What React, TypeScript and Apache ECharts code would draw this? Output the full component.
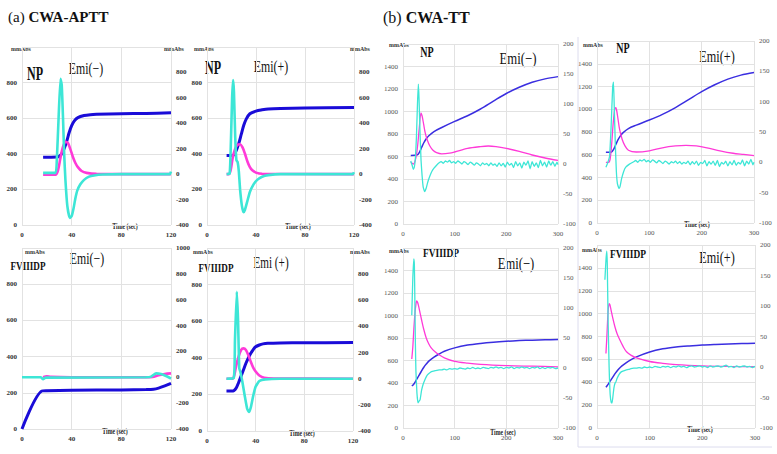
import { useEffect, useRef } from "react";
import * as echarts from "echarts";

type Pt = [number, number];

// ---------- (a) CWA-APTT ----------
const A_X_TICKS = [0, 40, 80, 120];
const A_LEFT_TICKS = [0, 200, 400, 600, 800, 1000];
const A_RIGHT_TICKS = [-400, -200, 0, 200, 400, 600, 800, 1000];

// NP Emi(−)
const A1_BLUE: Pt[] = [[17, 380], [28, 382], [30, 386], [32, 400], [34, 430], [36, 470], [38, 520], [40, 558], [42, 584], [45, 603], [50, 615], [55, 620], [60, 622], [80, 625], [100, 627], [120, 630]];
const A1_MAG: Pt[] = [[17, -5], [27, -5], [29, 30], [31, 130], [33, 215], [35, 255], [37, 245], [39, 195], [41, 135], [43, 88], [45, 55], [48, 25], [52, 10], [60, 2], [120, 0]];
const A1_CYAN: Pt[] = [[17, 10], [27, 10], [28, 100], [29.5, 450], [31, 750], [32, 700], [33, 450], [34, 150], [35, -50], [36.5, -250], [38.5, -345], [40, -330], [41.5, -270], [43, -190], [44.5, -130], [47, -80], [50, -45], [54, -20], [58, -10], [65, -3], [80, 0], [119, 0], [120, 20]];

// NP Emi(+)
const A2_BLUE: Pt[] = [[16, 390], [20, 390], [22, 395], [24, 420], [26, 460], [28, 510], [30, 560], [32, 595], [35, 625], [40, 640], [45, 647], [50, 652], [60, 655], [80, 657], [120, 660]];
const A2_MAG: Pt[] = [[16, 0], [18, 0], [19.5, 40], [21, 130], [23, 200], [25, 232], [27, 235], [29, 210], [31, 160], [33, 100], [35, 55], [37, 30], [40, 12], [45, 3], [120, 0]];
const A2_CYAN: Pt[] = [[16, 0], [18.5, 5], [19.5, 250], [20.5, 600], [21.3, 740], [22, 650], [23, 300], [24, 110], [25, 95], [26, 20], [27, -120], [28.5, -250], [29.8, -300], [31, -280], [33, -210], [35, -140], [38, -80], [41, -45], [45, -20], [50, -8], [60, 0], [119, 0], [120, 15]];

// FVIIIDP Emi(−)
const A3_BLUE: Pt[] = [[0, 0], [16, 210], [20, 212], [40, 214], [80, 216], [100, 218], [106, 220], [110, 226], [115, 238], [120, 252]];
const A3_MAG: Pt[] = [[17, 0], [20, 8], [23, 3], [40, 0], [100, 0], [105, 2], [110, 15], [115, 25], [120, 30]];
const A3_CYAN: Pt[] = [[0, 0], [15, 0], [17, -15], [19, -3], [100, 0], [104, 5], [108, 30], [112, 25], [116, 10], [120, -10]];

// FVIIIDP Emi(+)
const A4_BLUE: Pt[] = [[16, 218], [20, 218], [22, 220], [24, 235], [26, 265], [28, 300], [30, 335], [32, 370], [34, 400], [36, 425], [38, 445], [40, 460], [43, 470], [46, 476], [50, 479], [60, 481], [80, 482], [120, 483]];
const A4_MAG: Pt[] = [[16, 0], [21, 0], [22.5, 30], [24, 100], [26, 170], [28, 220], [30, 232], [32, 220], [34, 180], [36, 130], [38, 85], [40, 55], [43, 25], [47, 8], [55, 2], [120, 0]];
const A4_CYAN: Pt[] = [[16, 0], [22, 5], [23, 300], [24.5, 665], [25.5, 450], [26.5, 80], [27.5, 50], [29, -20], [31, -130], [33, -230], [34.5, -255], [36, -220], [38, -130], [40, -60], [43, -18], [48, -5], [60, 0], [120, 0]];

// ---------- (b) CWA-TT ----------
const B_X_TICKS = [0, 100, 200, 300];
const B_LEFT_TICKS = [0, 200, 400, 600, 800, 1000, 1200, 1400, 1600];
const B_RIGHT_TICKS = [-100, -50, 0, 50, 100, 150, 200];

// NP Emi(−)
const B1_BLUE: Pt[] = [[15, 610], [28, 615], [32, 640], [36, 680], [40, 720], [45, 758], [50, 785], [60, 822], [75, 858], [100, 912], [125, 962], [150, 1022], [175, 1092], [200, 1160], [225, 1215], [250, 1260], [275, 1290], [300, 1310]];
const B1_MAG: Pt[] = [[15, 3], [18, 1], [20, 0], [23, 4], [26, 15], [28.5, 32], [31.5, 60], [34.8, 85], [37, 80], [40, 66], [43, 52], [47, 40], [52, 30], [58, 23], [65, 19], [75, 17], [90, 18], [100, 20], [125, 26], [150, 29], [165, 30], [180, 29], [200, 26], [225, 21], [250, 15], [275, 10], [300, 6]];
const B1_CYAN: Pt[] = [[15, 5], [18, -3], [20, -9], [22, -5], [24, 10], [26, 45], [28, 100], [29.7, 133], [31, 110], [33, 50], [35, 5], [37, -20], [39, -38], [42, -46], [45, -40], [48, -30], [52, -20], [56, -12], [60, -7], [65, -2],
  [70, 2], [74, 4], [78, 1], [82, 5], [86, 3], [90, 6], [94, 2], [98, 4], [102, 1], [106, 5], [110, 3], [114, 0], [118, 4], [122, 2], [126, -1], [130, 3], [134, 1], [138, -2], [142, 2], [146, 0], [150, -3], [154, 2], [158, -1], [162, 1], [166, -3], [170, 2], [174, -2], [178, 0], [182, -4], [186, 2], [190, -3], [194, 1], [198, -5], [202, 3], [206, -2], [210, 1], [214, -6], [218, 4], [222, -3], [226, 2], [230, -7], [234, 3], [238, -2], [242, 5], [246, -8], [250, 4], [254, -4], [258, 2], [262, -6], [266, 6], [270, -3], [274, 3], [278, -5], [282, 5], [286, -2], [290, 4], [294, -4], [298, 3], [300, -1]];

// NP Emi(+)
const B2_BLUE: Pt[] = [[17, 622], [28, 625], [32, 650], [36, 690], [40, 730], [45, 768], [50, 795], [60, 830], [75, 860], [100, 905], [125, 955], [150, 1015], [175, 1085], [200, 1155], [225, 1215], [250, 1265], [275, 1300], [300, 1323]];
const B2_MAG: Pt[] = [[17, 0], [22, 0], [25, 5], [28, 30], [31, 65], [34, 88], [36, 90], [39, 78], [43, 55], [48, 38], [53, 28], [60, 20], [75, 17], [100, 19], [125, 24], [150, 27], [170, 28], [190, 27], [210, 24], [235, 19], [260, 15], [280, 13], [300, 11]];
const B2_CYAN: Pt[] = [[17, -8], [20, -2], [24, 10], [27, 60], [30, 125], [31.5, 132], [33, 90], [35, 30], [37, -15], [39, -35], [42, -43], [44, -40], [47, -27], [51, -15], [55, -8], [62, -3],
  [70, 1], [74, 3], [78, 0], [82, 4], [86, 2], [90, 5], [94, 1], [98, 3], [102, 0], [106, 4], [110, 2], [114, -1], [118, 3], [122, 1], [126, -2], [130, 2], [134, 0], [138, -3], [142, 1], [146, -1], [150, 2], [154, -2], [158, 1], [162, -3], [166, 0], [170, -2], [174, 2], [178, -4], [182, 1], [186, -3], [190, 2], [194, -5], [198, 0], [202, -2], [206, 3], [210, -6], [214, 1], [218, -3], [222, 2], [226, -5], [230, 3], [234, -7], [238, 0], [242, -3], [246, 2], [250, -6], [254, 1], [258, -4], [262, 3], [266, -5], [270, 0], [274, -3], [278, 4], [282, -6], [286, 2], [290, -3], [294, 5], [298, -4], [300, 0]];

// FVIIIDP Emi(−)
const B3_BLUE: Pt[] = [[17, 375], [20, 385], [25, 420], [30, 460], [35, 500], [40, 538], [45, 568], [50, 594], [60, 630], [70, 658], [80, 682], [100, 712], [125, 737], [150, 752], [175, 763], [200, 771], [225, 777], [250, 781], [275, 784], [300, 787]];
const B3_MAG: Pt[] = [[17, 15], [19, 35], [21, 65], [23, 90], [25, 106], [26.5, 112], [28, 110], [30, 104], [33, 92], [36, 80], [40, 65], [45, 50], [50, 40], [55, 33], [62, 27], [70, 22], [80, 17], [100, 11], [125, 8], [150, 6], [200, 4], [250, 3], [300, 2]];
const B3_CYAN: Pt[] = [[17, 88], [19, 150], [21, 182], [22, 172], [23, 110], [24, 40], [25, -5], [27, -42], [29, -58], [30.5, -56], [33, -53], [36, -37], [39, -27], [42.6, -19], [46, -13], [49, -10], [55, -6], [62, -4.5], [70, -3],
  [75, -3], [80, -2], [85, -3], [90, -1], [95, -2], [100, -1], [105, -2], [110, 0], [115, -1], [120, -2], [125, 0], [130, -1], [135, 1], [140, -1], [145, 0], [150, -1], [155, 1], [160, 0], [165, -1], [170, 1], [175, 0], [180, 2], [185, 0], [190, 1], [195, -1], [200, 1], [205, 0], [210, 2], [215, -1], [220, 1], [225, 0], [230, 2], [235, 0], [240, 1], [245, -1], [250, 1], [255, 0], [260, 2], [265, -1], [270, 1], [275, -1], [280, 1], [285, 0], [290, 1], [295, -1], [300, 0]];

// FVIIIDP Emi(+)
const B4_BLUE: Pt[] = [[17, 356], [20, 375], [25, 410], [30, 445], [35, 480], [40, 510], [45, 533], [50, 552], [60, 585], [75, 622], [100, 665], [125, 692], [150, 708], [175, 718], [200, 726], [225, 731], [250, 735], [275, 738], [300, 741]];
const B4_MAG: Pt[] = [[17, 22], [19, 55], [21, 90], [23, 104], [24.5, 102], [27, 92], [30, 80], [34, 66], [38, 55], [43, 45], [50, 33], [56, 25], [65, 19], [75, 15], [100, 9], [125, 6], [150, 4], [200, 2], [250, 1], [300, 0.5]];
const B4_CYAN: Pt[] = [[15, 143], [17, 175], [18.5, 190], [19.5, 170], [21, 80], [23, 0], [25, -45], [27, -58], [28.5, -59], [30, -50], [32, -35], [34, -27], [36, -24], [38, -19], [42, -12], [46, -8], [52, -6], [60, -4], [70, -2],
  [75, -2], [80, -1], [85, -2], [90, 0], [95, -1], [100, 0], [105, -1], [110, 1], [115, 0], [120, -1], [125, 1], [130, 0], [135, 1], [140, -1], [145, 1], [150, 0], [155, 2], [160, 0], [165, 1], [170, -1], [175, 1], [180, 2], [185, 0], [190, 1], [195, 2], [200, 0], [205, 1], [210, -1], [215, 2], [220, 0], [225, 1], [230, 2], [235, 0], [240, 1], [245, 3], [250, 0], [255, 1], [260, -1], [265, 2], [270, 0], [275, 1], [280, 2], [285, 0], [290, 1], [295, -1], [300, 1]];

const PANELS = [
  { kind: "a", grid: { left: 22, top: 47, width: 149, height: 178 }, rightMax: false, blue: A1_BLUE, mag: A1_MAG, cyan: A1_CYAN },
  { kind: "a", grid: { left: 207, top: 47, width: 147, height: 178 }, rightMax: false, blue: A2_BLUE, mag: A2_MAG, cyan: A2_CYAN },
  { kind: "a", grid: { left: 22, top: 248, width: 149, height: 181 }, rightMax: true, blue: A3_BLUE, mag: A3_MAG, cyan: A3_CYAN },
  { kind: "a", grid: { left: 207, top: 248, width: 146, height: 183 }, rightMax: false, blue: A4_BLUE, mag: A4_MAG, cyan: A4_CYAN },
  { kind: "b", grid: { left: 403, top: 44, width: 155, height: 180 }, rightMax: true, blue: B1_BLUE, mag: B1_MAG, cyan: B1_CYAN },
  { kind: "b", grid: { left: 597, top: 41, width: 157, height: 182 }, rightMax: true, blue: B2_BLUE, mag: B2_MAG, cyan: B2_CYAN },
  { kind: "b", grid: { left: 403, top: 248, width: 155, height: 180 }, rightMax: true, blue: B3_BLUE, mag: B3_MAG, cyan: B3_CYAN },
  { kind: "b", grid: { left: 597, top: 245, width: 158, height: 183 }, rightMax: true, blue: B4_BLUE, mag: B4_MAG, cyan: B4_CYAN },
];

const SERIF = '"Liberation Serif", "Times New Roman", serif';
const plain = (v: number) => String(v);

function txt(text: string, cx: number, cy: number, size: number, weight: string, sx: number, color = "#111") {
  return {
    type: "text",
    x: cx,
    y: cy,
    scaleX: sx,
    silent: true,
    style: {
      text,
      x: 0,
      y: 0,
      fontSize: size,
      fontWeight: weight,
      fontFamily: SERIF,
      fill: color,
      textAlign: "center",
      textVerticalAlign: "middle",
      align: "center",
      verticalAlign: "middle",
    },
  };
}

export default function App() {
  const ref = useRef<HTMLDivElement>(null);
  useEffect(() => {
    const chart = echarts.init(ref.current!, undefined, { renderer: "svg", width: 777, height: 454 });
    const grids: any[] = [];
    const xAxes: any[] = [];
    const yAxes: any[] = [];
    const series: any[] = [];
    PANELS.forEach((p, i) => {
      const isA = p.kind === "a";
      const xt = isA ? A_X_TICKS : B_X_TICKS;
      const lt = isA ? A_LEFT_TICKS : B_LEFT_TICKS;
      const rt = isA ? A_RIGHT_TICKS : B_RIGHT_TICKS;
      const labelStyle = {
        fontFamily: SERIF,
        fontSize: 7,
        fontWeight: isA ? "bold" : "normal",
        color: isA ? "#333" : "#555",
        formatter: plain,
      };
      grids.push({ ...p.grid, containLabel: false });
      xAxes.push({
        type: "value",
        gridIndex: i,
        min: xt[0],
        max: xt[xt.length - 1],
        interval: xt[1] - xt[0],
        axisLine: { show: false },
        axisTick: { show: false },
        splitLine: { show: true, lineStyle: { color: "#e2e2e2", width: 1 } },
        axisLabel: { ...labelStyle, margin: 6 },
      });
      yAxes.push({
        type: "value",
        gridIndex: i,
        position: "left",
        min: lt[0],
        max: lt[lt.length - 1],
        interval: lt[1] - lt[0],
        axisLine: { show: false },
        axisTick: { show: false },
        splitLine: { show: true, lineStyle: { color: "#e2e2e2", width: 1 } },
        axisLabel: { ...labelStyle, margin: 5, showMaxLabel: false },
      });
      yAxes.push({
        type: "value",
        gridIndex: i,
        position: "right",
        min: rt[0],
        max: rt[rt.length - 1],
        interval: rt[1] - rt[0],
        axisLine: { show: false },
        axisTick: { show: false },
        splitLine: { show: false },
        axisLabel: { ...labelStyle, margin: 5, showMaxLabel: p.rightMax, showMinLabel: true },
      });
      const w = isA ? 2.6 : 1.3;
      const base = { type: "line", xAxisIndex: i, showSymbol: false, symbol: "none", silent: true };
      series.push({ ...base, yAxisIndex: 2 * i, data: p.blue, smooth: 0.3, lineStyle: { color: isA ? "#1a0cd8" : "#3a2ee0", width: w + (isA ? 0.4 : 0.2) } });
      series.push({ ...base, yAxisIndex: 2 * i + 1, data: p.mag, smooth: 0.3, lineStyle: { color: "#ff3ad8", width: w } });
      series.push({ ...base, yAxisIndex: 2 * i + 1, data: p.cyan, smooth: 0.15, lineStyle: { color: "#3de6d6", width: w } });
    });

    const graphics: any[] = [
      { type: "line", silent: true, shape: { x1: 578, y1: 37, x2: 578, y2: 447 }, style: { stroke: "#dcdcee", lineWidth: 1 } },
      { type: "line", silent: true, shape: { x1: 578, y1: 447, x2: 772, y2: 447 }, style: { stroke: "#dcdcee", lineWidth: 1 } },
      {
        type: "text", x: 8, y: 17, silent: true,
        style: {
          text: "{n|(a) }{b|CWA-APTT}", x: 0, y: 0, textVerticalAlign: "middle", verticalAlign: "middle",
          rich: { n: { fontFamily: SERIF, fontSize: 15, fill: "#111" }, b: { fontFamily: SERIF, fontSize: 15, fontWeight: "bold", fill: "#111" } },
        },
      },
      {
        type: "text", x: 383, y: 17, silent: true,
        style: {
          text: "{n|(b) }{b|CWA-TT}", x: 0, y: 0, textVerticalAlign: "middle", verticalAlign: "middle",
          rich: { n: { fontFamily: SERIF, fontSize: 16, fill: "#111" }, b: { fontFamily: SERIF, fontSize: 16, fontWeight: "bold", fill: "#111" } },
        },
      },
      txt("mmAbs", 21, 48, 7, "bold", 0.85, "#333"),
      txt("mmAbs", 174, 48, 7, "bold", 0.85, "#333"),
      txt("mmAbs", 204, 48, 7, "bold", 0.85, "#333"),
      txt("mmAbs", 360, 48, 7, "bold", 0.85, "#333"),
      txt("mmAbs", 35, 251, 7, "bold", 0.85, "#333"),
      txt("mmAbs", 203, 251, 7, "bold", 0.85, "#333"),
      txt("mmAbs", 360, 251, 7, "bold", 0.85, "#333"),
      txt("mmAbs", 399, 44, 7, "bold", 0.85, "#333"),
      txt("mmAbs", 593, 44, 7, "bold", 0.85, "#333"),
      txt("mmAbs", 399, 250, 7, "bold", 0.85, "#333"),
      txt("mmAbs", 592, 249, 7, "bold", 0.85, "#333"),
      txt("Time (sec)", 125, 227, 8, "bold", 0.72, "#222"),
      txt("Time (sec)", 298, 227, 8, "bold", 0.72, "#222"),
      txt("Time (sec)", 115, 432, 8, "bold", 0.72, "#222"),
      txt("Time (sec)", 302, 434, 8, "bold", 0.72, "#222"),
      txt("Time (sec)", 697, 225, 8, "bold", 0.72, "#222"),
      txt("Time (sec)", 503, 433, 8, "bold", 0.72, "#222"),
      txt("Time (sec)", 700, 430, 8, "bold", 0.72, "#222"),
      txt("NP", 35, 74, 18, "bold", 0.67),
      txt("Emi(−)", 86, 68, 16, "normal", 0.74),
      txt("NP", 213, 68, 18, "bold", 0.67),
      txt("Emi(+)", 271, 66, 16, "normal", 0.74),
      txt("FVIIIDP", 28, 265, 13, "bold", 0.7),
      txt("Emi(−)", 87, 258, 16, "normal", 0.74),
      txt("FVIIIDP", 216, 267, 13, "bold", 0.7),
      txt("Emi (+)", 271, 263, 16, "normal", 0.7),
      txt("NP", 427, 52, 15, "bold", 0.67),
      txt("Emi(−)", 518, 58, 17, "normal", 0.75),
      txt("NP", 623, 48, 15, "bold", 0.67),
      txt("Emi(+)", 717, 56, 17, "normal", 0.72),
      txt("FVIIIDP", 441, 253, 13.5, "bold", 0.7),
      txt("Emi(−)", 516, 263, 17, "normal", 0.74),
      txt("FVIIIDP", 628, 254, 13.5, "bold", 0.7),
      txt("Emi(+)", 717, 257, 17, "normal", 0.72),
    ];

    chart.setOption({
      animation: false,
      backgroundColor: "#ffffff",
      grid: grids,
      xAxis: xAxes,
      yAxis: yAxes,
      series,
      graphic: graphics,
    });
    return () => chart.dispose();
  }, []);
  return <div ref={ref} style={{ position: "fixed", left: 0, top: 0, width: 777, height: 454, background: "#fff" }} />;
}
